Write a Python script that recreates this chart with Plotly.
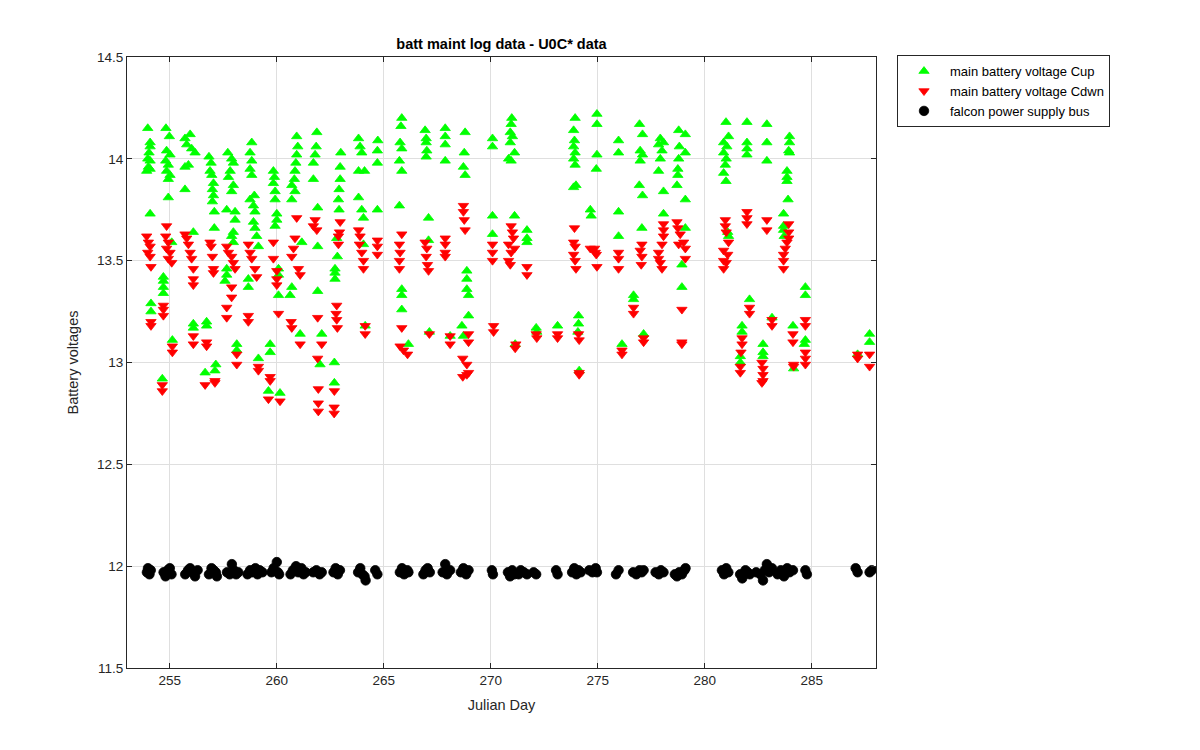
import plotly.graph_objects as go

# ---- data (Julian day, volts) ----
cup_day = [
    253.97, 254.08, 254.08, 254.03, 253.97, 254.08, 254.00, 253.92, 254.08, 254.08, 254.12, 254.12,
    254.82, 254.98, 254.85, 255.01, 254.81, 254.93, 254.85, 255.01, 254.93, 254.93, 255.09, 254.70, 254.70, 254.70, 254.70, 255.12, 254.65,
    255.71, 255.95, 255.79, 256.02, 256.18, 255.87, 255.71, 255.71, 256.10, 256.10, 256.10,
    256.83, 256.93, 256.88, 256.96, 257.04, 256.99, 257.04, 256.99, 257.08, 257.08, 256.72, 256.72, 257.15, 256.65, 257.11,
    257.71, 257.89, 257.97, 257.82, 257.74, 257.97, 257.89, 257.66, 258.05, 258.05, 257.97, 257.89, 257.97, 257.66, 257.66, 257.58, 258.13, 258.13,
    258.83, 258.75, 258.83, 258.75, 258.83, 258.75, 258.95, 258.91, 258.98, 258.91, 258.98, 259.06, 259.14, 258.67, 258.67, 259.14,
    259.84, 259.89, 259.84, 259.92, 259.92, 260.00, 260.00, 259.92, 260.08, 260.08, 260.08, 259.69, 259.69, 259.61, 260.15,
    260.93, 260.98, 260.93, 260.89, 260.85, 260.82, 260.70, 260.85, 260.70, 261.17, 260.70, 260.62, 261.09,
    261.87, 261.84, 261.79, 261.71, 261.71, 261.91, 261.91, 261.91, 262.02, 262.10,
    262.99, 262.96, 262.96, 262.91, 262.88, 262.91, 262.80, 262.83, 262.72, 262.72, 262.72, 262.69, 262.69,
    263.82, 263.89, 263.97, 263.82, 264.10, 264.72, 264.70, 264.70, 263.82, 263.97, 264.05, 264.70, 264.05, 264.13,
    265.84, 265.80, 265.76, 265.84, 265.73, 265.84, 265.73, 265.84, 265.84, 265.84, 266.15,
    266.93, 266.98, 266.98, 267.01, 266.98, 267.09, 267.09, 267.13,
    267.87, 267.87, 267.87, 267.87, 268.10,
    268.80, 268.76, 268.72, 268.80, 268.88, 268.88, 268.88, 268.96, 268.96, 268.65, 268.72,
    270.08, 270.08, 270.08, 270.08,
    270.98, 270.95, 270.91, 271.01, 270.91, 271.11, 270.83, 270.95, 271.11, 271.69, 271.69, 271.69, 271.14,
    272.12, 272.15, 273.12,
    273.94, 273.87, 273.91, 273.87, 273.94, 273.87, 273.94, 273.87, 273.98, 274.10, 274.10, 274.07, 274.13,
    274.96, 274.96, 274.96, 274.93, 274.65, 274.69,
    275.97, 275.97, 275.97, 275.97, 276.13,
    276.95, 277.09, 276.98, 277.09, 276.98, 276.94, 277.09, 277.06, 276.67, 276.67, 277.14,
    277.92, 278.07, 277.84, 278.00, 277.92, 277.84, 278.07, 278.07,
    278.78, 279.09, 278.81, 279.09, 278.78, 278.74, 278.74, 278.70, 279.09, 279.09, 278.93, 278.93,
    280.99, 281.11, 280.88, 281.03, 280.88, 281.00, 280.96, 280.88, 280.99, 281.07, 281.11,
    281.97, 281.97, 281.97, 281.97, 281.74, 281.74, 282.09, 281.66, 281.66,
    282.90, 282.90, 282.90, 283.14, 282.72, 282.72, 282.72,
    283.96, 283.96, 283.92, 283.96, 283.84, 283.84, 283.84, 283.89, 283.68, 283.68, 283.68, 283.71, 284.12, 284.15,
    284.70, 284.70, 284.70, 284.65,
    287.14, 287.70, 287.70,
]
cup_v = [
    14.15, 14.08, 14.06, 14.03, 14.00, 13.99, 13.96, 13.94, 13.95, 13.73, 13.29, 13.25,
    14.15, 14.11, 14.04, 14.02, 13.99, 13.97, 13.94, 13.92, 13.90, 13.81, 13.59, 13.42, 13.40, 13.37, 13.34, 13.11, 12.92,
    14.10, 14.12, 14.07, 14.05, 14.03, 13.97, 13.96, 13.85, 13.64, 13.19, 13.17,
    14.01, 13.98, 13.94, 13.92, 13.88, 13.85, 13.82, 13.79, 13.74, 13.66, 13.20, 13.18, 12.99, 12.95, 12.96,
    14.03, 14.00, 13.98, 13.94, 13.91, 13.87, 13.84, 13.75, 13.74, 13.70, 13.64, 13.62, 13.59, 13.46, 13.43, 13.40, 13.09, 13.06,
    14.08, 14.03, 13.99, 13.95, 13.92, 13.80, 13.82, 13.77, 13.74, 13.69, 13.66, 13.62, 13.57, 13.41, 13.37, 13.02,
    13.94, 13.91, 13.88, 13.84, 13.80, 13.73, 13.70, 13.67, 13.46, 13.43, 13.33, 13.09, 13.05, 12.86, 12.85,
    14.11, 14.06, 14.02, 13.98, 13.94, 13.90, 13.87, 13.84, 13.80, 13.59, 13.37, 13.33, 13.14,
    14.13, 14.06, 14.02, 13.98, 13.90, 13.76, 13.57, 13.35, 12.99, 13.14,
    14.03, 13.96, 13.90, 13.85, 13.80, 13.75, 13.61, 13.52, 13.46, 13.44, 13.41, 13.00, 12.90,
    14.10, 14.06, 14.03, 13.94, 13.94, 14.09, 14.04, 13.98, 13.81, 13.75, 13.71, 13.75, 13.58, 13.18,
    14.20, 14.16, 14.08, 14.05, 13.99, 13.94, 13.77, 13.36, 13.33, 13.26, 13.09,
    14.14, 14.10, 14.08, 14.04, 14.01, 13.71, 13.60, 13.15,
    14.15, 14.11, 14.07, 13.99, 13.13,
    14.13, 14.03, 13.96, 13.92, 13.45, 13.41, 13.36, 13.33, 13.23, 13.18, 13.13,
    14.10, 14.06, 13.72, 13.63,
    14.20, 14.17, 14.13, 14.11, 14.08, 14.03, 14.00, 13.99, 13.72, 13.65, 13.61, 13.59, 13.09,
    13.17, 13.15, 13.18,
    14.20, 14.14, 14.09, 14.06, 14.03, 14.00, 13.97, 13.86, 13.87, 13.23, 13.19, 13.15, 12.96,
    14.22, 14.17, 14.02, 13.95, 13.75, 13.72,
    14.09, 14.03, 13.74, 13.62, 13.09,
    14.17, 14.12, 14.04, 14.02, 13.99, 13.87, 13.82, 13.66, 13.33, 13.31, 13.14,
    14.10, 14.08, 14.07, 14.04, 14.00, 13.94, 13.84, 13.73,
    14.14, 14.12, 14.06, 14.03, 14.00, 13.95, 13.92, 13.87, 13.80, 13.66, 13.48, 13.37,
    14.18, 14.11, 14.08, 14.06, 14.03, 14.00, 13.97, 13.93, 13.89, 13.64, 13.62,
    14.18, 14.08, 14.05, 14.02, 13.18, 13.15, 13.31, 13.03, 13.00,
    14.17, 14.08, 13.99, 13.22, 13.09, 13.05, 13.03,
    14.11, 14.08, 14.04, 14.03, 13.94, 13.91, 13.89, 13.80, 13.73, 13.67, 13.65, 13.62, 13.18, 12.97,
    13.37, 13.33, 13.11, 13.09,
    13.04, 13.14, 13.10,
]

cdwn_day = [
    253.92, 254.00, 254.08, 253.97, 254.08, 254.12, 254.12, 254.12,
    254.85, 254.81, 254.93, 254.85, 255.01, 254.93, 255.09, 254.70, 254.70, 254.70, 255.12, 255.12, 254.65, 254.65,
    255.71, 255.79, 255.87, 255.95, 256.02, 256.10, 256.10, 256.10, 256.10, 256.10,
    256.88, 256.93, 256.99, 257.04, 257.04, 256.72, 256.72, 257.11, 257.11, 256.65,
    257.66, 257.74, 257.89, 257.97, 258.05, 257.89, 257.89, 257.66, 257.66, 258.13, 258.13,
    258.67, 258.75, 258.83, 258.98, 259.06, 258.67, 258.67, 259.14, 259.14,
    259.84, 259.84, 260.00, 260.00, 260.00, 260.08, 259.69, 259.69, 259.61, 260.15,
    260.93, 260.85, 260.78, 260.70, 261.01, 261.09, 260.67, 260.70, 261.09,
    261.79, 261.87, 261.71, 261.91, 261.91, 261.94, 261.94, 261.94, 262.10,
    262.96, 262.93, 262.88, 262.88, 262.80, 262.77, 262.80, 262.83, 262.69, 262.68, 262.68,
    263.82, 263.89, 263.86, 263.97, 264.05, 264.05, 264.70, 264.70, 264.70, 264.13, 264.13,
    265.84, 265.73, 265.76, 265.73, 265.73, 265.84, 265.76, 266.11, 265.92,
    266.93, 267.01, 266.98, 267.04, 267.09, 267.13,
    267.87, 267.87, 267.87, 267.87, 268.10, 268.10,
    268.72, 268.72, 268.76, 268.80, 268.96, 268.96, 268.69, 268.88, 268.96, 268.69, 268.88,
    270.08, 270.08, 270.08, 270.13, 270.13,
    270.95, 271.01, 271.06, 270.83, 271.11, 270.95, 270.83, 270.91, 271.69, 271.69, 271.17, 271.14,
    272.12, 272.15, 273.12, 273.12,
    273.91, 273.87, 273.94, 273.87, 273.94, 273.98, 274.10, 274.13, 274.13, 274.13,
    274.65, 274.85, 274.93, 274.96, 274.88,
    275.97, 275.97, 275.97, 276.13, 276.13,
    277.06, 276.98, 277.06, 277.03, 276.67, 276.67, 277.14, 277.14,
    278.07, 278.07, 278.07, 278.00, 277.84, 277.84, 277.92, 278.00,
    278.70, 278.74, 278.85, 278.78, 279.01, 279.09, 279.09, 278.93, 278.93, 278.93,
    280.96, 280.96, 281.00, 281.11, 280.88, 281.07, 280.88, 281.00, 280.88,
    281.97, 281.97, 281.97, 282.09, 282.09, 281.74, 281.74, 281.69, 281.66, 281.66,
    282.90, 282.90, 283.14, 283.14, 282.67, 282.72, 282.72, 282.67, 282.72,
    283.92, 283.92, 283.92, 283.84, 283.76, 283.68, 283.68, 283.68, 284.12, 284.12, 284.15, 284.15,
    284.70, 284.70, 284.70, 284.70, 284.70,
    287.14, 287.14, 287.70, 287.70,
]
cdwn_v = [
    13.62, 13.59, 13.57, 13.54, 13.52, 13.47, 13.20, 13.18,
    13.67, 13.62, 13.59, 13.56, 13.54, 13.51, 13.49, 13.28, 13.26, 13.23, 13.08, 13.05, 12.89, 12.86,
    13.63, 13.61, 13.58, 13.54, 13.51, 13.46, 13.41, 13.38, 13.13, 13.09,
    13.59, 13.57, 13.52, 13.46, 13.44, 13.10, 13.08, 12.91, 12.90, 12.89,
    13.57, 13.54, 13.52, 13.49, 13.46, 13.37, 13.32, 13.27, 13.22, 13.04, 12.99,
    13.58, 13.54, 13.51, 13.46, 13.42, 13.23, 13.20, 12.98, 12.96,
    13.59, 13.51, 13.45, 13.41, 13.38, 13.24, 12.93, 12.91, 12.82, 12.81,
    13.71, 13.61, 13.56, 13.52, 13.46, 13.43, 13.20, 13.17, 13.09,
    13.70, 13.65, 13.67, 13.22, 13.02, 12.87, 12.80, 12.76, 13.09,
    13.69, 13.64, 13.62, 13.58, 13.28, 13.24, 13.21, 13.17, 12.86, 12.78, 12.75,
    13.65, 13.62, 13.58, 13.54, 13.50, 13.46, 13.60, 13.57, 13.53, 13.18, 13.14,
    13.63, 13.58, 13.54, 13.50, 13.46, 13.17, 13.08, 13.04, 13.06,
    13.59, 13.56, 13.52, 13.48, 13.45, 13.14,
    13.61, 13.58, 13.54, 13.52, 13.13, 13.09,
    13.77, 13.74, 13.70, 13.65, 13.14, 13.10, 13.02, 12.99, 12.95, 12.93, 12.94,
    13.58, 13.54, 13.50, 13.18, 13.15,
    13.67, 13.64, 13.61, 13.58, 13.56, 13.54, 13.50, 13.48, 13.47, 13.43, 13.09, 13.07,
    13.14, 13.12, 13.14, 13.12,
    13.66, 13.59, 13.57, 13.53, 13.50, 13.46, 13.14, 13.11, 12.95, 12.94,
    13.56, 13.56, 13.53, 13.47, 13.54,
    13.54, 13.51, 13.46, 13.06, 13.04,
    13.58, 13.55, 13.52, 13.48, 13.27, 13.24, 13.12, 13.10,
    13.68, 13.65, 13.62, 13.58, 13.54, 13.51, 13.49, 13.46,
    13.69, 13.66, 13.63, 13.58, 13.59, 13.56, 13.51, 13.26, 13.10, 13.09,
    13.70, 13.67, 13.64, 13.59, 13.55, 13.53, 13.50, 13.49, 13.46,
    13.74, 13.71, 13.68, 13.27, 13.24, 13.12, 13.09, 13.05, 12.98, 12.95,
    13.70, 13.65, 13.21, 13.18, 13.00, 12.97, 12.94, 12.90, 12.91,
    13.68, 13.64, 13.61, 13.59, 13.56, 13.53, 13.50, 13.46, 13.14, 13.10, 12.99, 12.98,
    13.21, 13.18, 13.05, 13.02, 12.99,
    13.04, 13.02, 13.04, 12.98,
]

bus_day = [
    253.93, 253.98, 254.05, 254.11,
    254.71, 254.80, 254.90, 255.00, 255.08,
    255.72, 255.85, 255.95, 256.05, 256.18, 256.30,
    256.83, 256.95, 257.05, 257.15, 257.20,
    257.67, 257.80, 257.90, 258.00, 258.10, 258.20,
    258.63, 258.75, 258.85, 259.00, 259.10, 259.20, 259.33,
    259.75, 259.85, 260.00, 260.05, 260.11,
    260.64, 260.75, 260.90, 261.00, 261.15, 261.25, 261.35,
    261.70, 261.85, 262.00, 262.10,
    262.65, 262.75, 262.85, 262.95,
    263.80, 263.90, 264.00, 264.10, 264.15, 264.60, 264.70,
    265.75, 265.85, 265.95, 266.10, 266.15,
    266.85, 266.95, 267.05, 267.15,
    267.75, 267.87, 267.95, 268.10,
    268.60, 268.72, 268.85, 268.96,
    270.05, 270.10,
    270.80, 270.90, 271.00, 271.10,
    271.30, 271.40, 271.55, 271.69,
    272.00, 272.12,
    273.05, 273.12,
    273.80, 273.90, 274.00, 274.10, 274.20,
    274.60, 274.75, 274.90, 274.96,
    275.85, 275.97,
    276.65, 276.80, 276.95, 277.05, 277.14,
    277.70, 277.85, 277.95, 278.07,
    278.60, 278.70, 278.80, 278.93, 279.05, 279.10,
    280.80, 280.90, 281.00, 281.10,
    281.65, 281.75, 281.90, 282.00, 282.10,
    282.40, 282.60, 282.72, 282.80, 282.90, 283.00, 283.14,
    283.40, 283.55, 283.70, 283.85, 283.96, 284.12,
    284.70, 284.77,
    287.05, 287.14,
    287.70, 287.80,
]
bus_v = [
    11.97, 11.99, 11.96, 11.98,
    11.97, 11.95, 11.98, 11.99, 11.96,
    11.96, 11.98, 11.99, 11.97, 11.95, 11.98,
    11.96, 11.99, 11.98, 11.97, 11.95,
    11.97, 11.96, 12.01, 11.98, 11.96, 11.97,
    11.96, 11.98, 11.97, 11.99, 11.96, 11.98, 11.97,
    11.97, 11.99, 12.02, 11.97, 11.96,
    11.96, 11.98, 12.00, 11.97, 11.99, 11.96, 11.97,
    11.97, 11.98, 11.96, 11.97,
    11.97, 11.99, 11.96, 11.98,
    11.97, 11.99, 11.96, 11.95, 11.93, 11.98, 11.96,
    11.97, 11.99, 11.96, 11.98, 11.97,
    11.96, 11.98, 11.99, 11.97,
    11.97, 12.01, 11.96, 11.98,
    11.97, 11.99, 11.96, 11.98,
    11.98, 11.96,
    11.97, 11.95, 11.98, 11.96,
    11.96, 11.98, 11.97, 11.96,
    11.97, 11.96,
    11.98, 11.96,
    11.97, 11.99, 11.96, 11.98, 11.97,
    11.98, 11.97, 11.99, 11.97,
    11.96, 11.98,
    11.97, 11.96, 11.98, 11.97, 11.98,
    11.97, 11.96, 11.98, 11.97,
    11.96, 11.95, 11.97, 11.96, 11.98, 11.99,
    11.98, 11.96, 11.99, 11.97,
    11.96, 11.94, 11.98, 11.97, 11.96,
    11.97, 11.96, 11.93, 11.98, 12.01, 11.97, 11.99,
    11.96, 11.98, 11.95, 11.99, 11.97, 11.98,
    11.98, 11.96,
    11.99, 11.97,
    11.97, 11.98,
]

assert len(cup_day) == len(cup_v), (len(cup_day), len(cup_v))
assert len(cdwn_day) == len(cdwn_v), (len(cdwn_day), len(cdwn_v))
assert len(bus_day) == len(bus_v), (len(bus_day), len(bus_v))

x_ticks = [255, 260, 265, 270, 275, 280, 285]
y_ticks = [11.5, 12, 12.5, 13, 13.5, 14, 14.5]

FONT = "Liberation Sans, Arial, Helvetica, sans-serif"
AX = "#262626"
GRID = "#dfdfdf"

# page body has an 8px margin: figure is sized to fit inside the window
W, H = 1184, 734

fig = go.Figure()
fig.add_trace(go.Scatter(
    x=cup_day, y=cup_v, mode="markers", name="main battery voltage Cup",
    marker=dict(symbol="triangle-up", size=9, color="#00ff00",
                line=dict(color="#00ff00", width=0.8)),
))
fig.add_trace(go.Scatter(
    x=cdwn_day, y=cdwn_v, mode="markers", name="main battery voltage Cdwn",
    marker=dict(symbol="triangle-down", size=9, color="#ff0000",
                line=dict(color="#ff0000", width=0.8)),
))
fig.add_trace(go.Scatter(
    x=bus_day, y=bus_v, mode="markers", name="falcon power supply bus",
    marker=dict(symbol="circle", size=9.5, color="#000000",
                line=dict(color="#000000", width=0.8)),
))

fig.update_layout(
    width=W, height=H, autosize=False,
    paper_bgcolor="white", plot_bgcolor="white",
    margin=dict(l=119, r=W + 8 - 876, t=49, b=H + 8 - 668),
    font=dict(family=FONT, size=13, color=AX),
    title=dict(text="<b>batt maint log data - U0C* data</b>",
               x=0.5, xref="paper", xanchor="center",
               y=1 - 36 / H, yref="container", yanchor="middle",
               font=dict(family=FONT, size=14.5, color="#000000")),
    showlegend=True,
    legend=dict(x=(897 - 127) / 749, xanchor="left", y=1.003, yanchor="top",
                bgcolor="white", bordercolor=AX, borderwidth=1,
                font=dict(family=FONT, size=13, color="#000000"),
                itemwidth=42, tracegroupgap=0),
)
fig.update_xaxes(
    range=[253, 288], tickmode="array", tickvals=x_ticks,
    ticktext=[str(v) for v in x_ticks],
    ticks="inside", ticklen=5, tickcolor=AX, tickwidth=1,
    showline=True, linecolor=AX, linewidth=1, mirror="ticks",
    showgrid=True, gridcolor=GRID, gridwidth=1, zeroline=False,
    tickfont=dict(family=FONT, size=13.5, color=AX),
    title=dict(text="Julian Day", standoff=12,
               font=dict(family=FONT, size=14.5, color=AX)),
)
fig.update_yaxes(
    range=[11.5, 14.5], tickmode="array", tickvals=y_ticks,
    ticktext=[("%g" % v) for v in y_ticks],
    ticks="inside", ticklen=5, tickcolor=AX, tickwidth=1,
    showline=True, linecolor=AX, linewidth=1, mirror="ticks",
    showgrid=True, gridcolor=GRID, gridwidth=1, zeroline=False,
    tickfont=dict(family=FONT, size=13.5, color=AX),
    title=dict(text="Battery voltages", standoff=14,
               font=dict(family=FONT, size=14.5, color=AX)),
)

fig.write_html("out.html")
